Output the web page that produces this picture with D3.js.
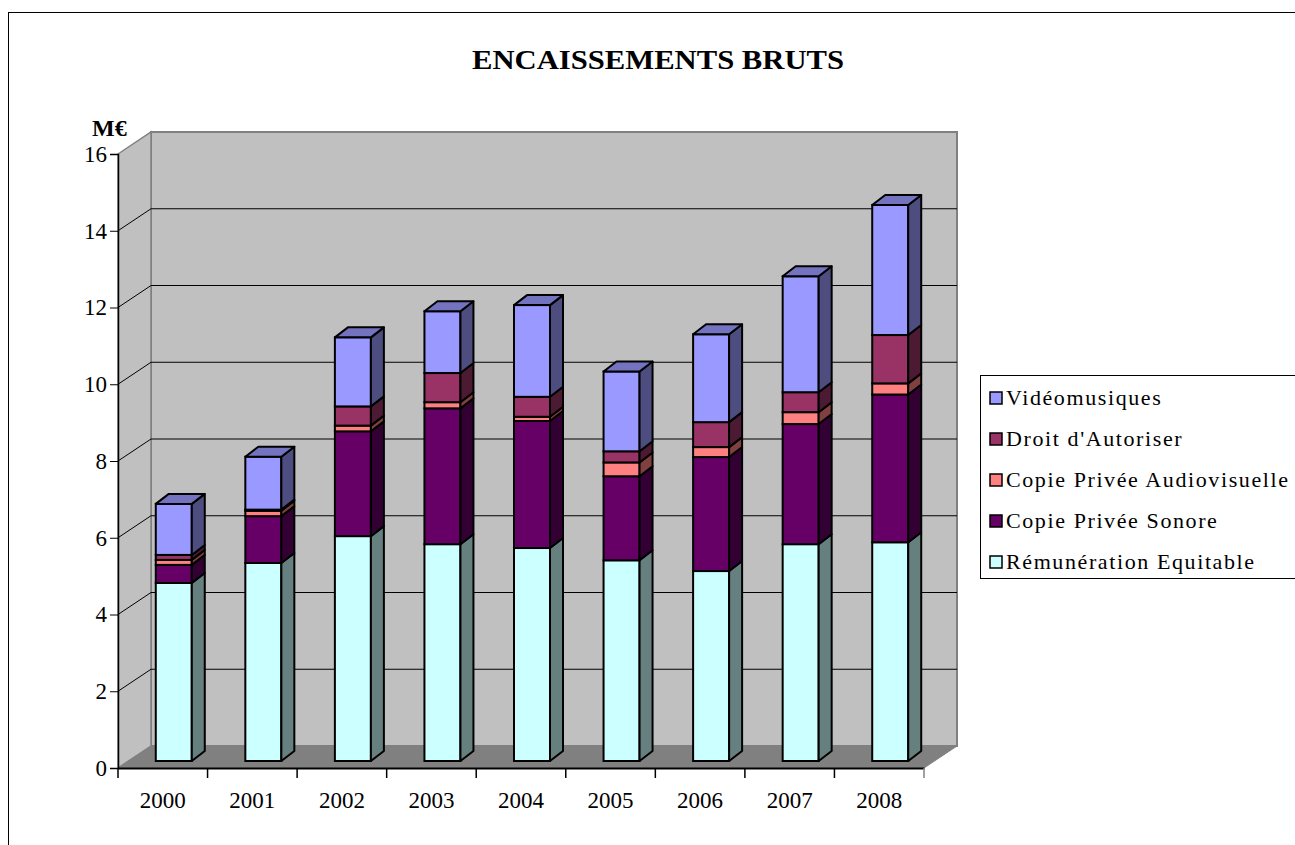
<!DOCTYPE html>
<html lang="fr">
<head>
<meta charset="utf-8">
<title>Encaissements bruts</title>
<script src="https://cdn.jsdelivr.net/npm/d3@7"></script>
<style>
  body { margin: 0; background: #fff; }
  svg text { font-family: "Liberation Serif", "DejaVu Serif", serif; fill: #000; }
</style>
</head>
<body>
<div id="chart"></div>
<script>
// values in M€
var years = ["2000", "2001", "2002", "2003", "2004", "2005", "2006", "2007", "2008"];
var remuneration = [4.64, 5.16, 5.86, 5.65, 5.55, 5.23, 4.95, 5.65, 5.70];
var copieSonore  = [0.47, 1.22, 2.73, 3.54, 3.31, 2.19, 2.97, 3.13, 3.85];
var copieAV      = [0.13, 0.14, 0.15, 0.16, 0.11, 0.36, 0.26, 0.31, 0.29];
var droit        = [0.13, 0.03, 0.50, 0.76, 0.52, 0.29, 0.65, 0.52, 1.26];
var video        = [1.33, 1.38, 1.80, 1.61, 2.39, 2.08, 2.29, 3.02, 3.39];
var yTicks = [0, 2, 4, 6, 8, 10, 12, 14, 16];

var keys = ["rem", "son", "av", "droit", "video"];
var labels = {
  rem: "Rémunération Equitable",
  son: "Copie Privée Sonore",
  av: "Copie Privée Audiovisuelle",
  droit: "Droit d'Autoriser",
  video: "Vidéomusiques"
};
var colors = {
  rem:   { front: "#CCFFFF", side: "#668080", top: "#99BFBF" },
  son:   { front: "#660066", side: "#330033", top: "#4d004d" },
  av:    { front: "#FF8080", side: "#804040", top: "#BF6060" },
  droit: { front: "#993366", side: "#4d1a33", top: "#73264d" },
  video: { front: "#9999FF", side: "#4d4d80", top: "#7373BF" }
};

var table = years.map(function(y, i) {
  return { year: y, rem: remuneration[i], son: copieSonore[i], av: copieAV[i], droit: droit[i], video: video[i] };
});
var series = d3.stack().keys(keys)(table);

var w = 1295, h = 845;
var pLeft = 118, pRight = 924, pBottom = 768, pTop = 154;
var depth = { dx: 33, dy: -22 };      // wall depth
var barOff = { dx: 11, dy: -7 };      // bar front plane inside the depth
var barDepth = { dx: 13, dy: -10 };
var barW = 36;

var x = d3.scaleBand().domain(years).range([pLeft, pRight]);
var y = d3.scaleLinear().domain([0, 16]).range([pBottom, pTop]);

var svg = d3.select("#chart").append("svg").attr("width", w).attr("height", h);

// outer frame
svg.append("rect").attr("x", 8.5).attr("y", 12.5).attr("width", 1300).attr("height", 900)
  .attr("fill", "none").attr("stroke", "#000").attr("stroke-width", 1);

// title
svg.append("text").attr("x", 658).attr("y", 69).attr("text-anchor", "middle")
  .attr("textLength", 372).attr("lengthAdjust", "spacingAndGlyphs")
  .style("font-size", "27px").style("font-weight", "bold").text("ENCAISSEMENTS BRUTS");

// back wall
svg.append("rect")
  .attr("x", pLeft + depth.dx).attr("y", pTop + depth.dy)
  .attr("width", pRight - pLeft).attr("height", pBottom - pTop)
  .attr("fill", "#C0C0C0").attr("stroke", "#808080").attr("stroke-width", 2);

// left wall
svg.append("polygon")
  .attr("points", [[pLeft, pTop], [pLeft + depth.dx, pTop + depth.dy], [pLeft + depth.dx, pBottom + depth.dy], [pLeft, pBottom]].join(" "))
  .attr("fill", "#C0C0C0").attr("stroke", "#808080").attr("stroke-width", 1.5);

// floor
svg.append("polygon")
  .attr("points", [[pLeft, pBottom], [pRight, pBottom], [pRight + depth.dx, pBottom + depth.dy], [pLeft + depth.dx, pBottom + depth.dy]].join(" "))
  .attr("fill", "#808080").attr("stroke", "#808080").attr("stroke-width", 1);

// gridlines (back wall + left wall diagonals)
var grid = svg.append("g");
yTicks.filter(function(t) { return t > 0 && t < 16; }).forEach(function(t) {
  grid.append("line")
    .attr("x1", pLeft + depth.dx).attr("x2", pRight + depth.dx)
    .attr("y1", y(t) + depth.dy).attr("y2", y(t) + depth.dy)
    .attr("stroke", "#000").attr("stroke-width", 1.2);
  grid.append("line")
    .attr("x1", pLeft).attr("x2", pLeft + depth.dx)
    .attr("y1", y(t)).attr("y2", y(t) + depth.dy)
    .attr("stroke", "#000").attr("stroke-width", 1);
});

// bars
var bars = svg.append("g");
series.forEach(function(s, si) {
  var c = colors[s.key];
  s.forEach(function(d) {
    var x0 = x(d.data.year) + x.bandwidth() / 2 - barW / 2 + barOff.dx;
    var x1 = x0 + barW;
    var yb = y(d[0]) + barOff.dy;
    var yt = y(d[1]) + barOff.dy;
    if (yb - yt <= 0) return;
    bars.append("rect")
      .attr("x", x0).attr("y", yt).attr("width", barW).attr("height", yb - yt)
      .attr("fill", c.front).attr("stroke", "#000").attr("stroke-width", 2);
    bars.append("polygon")
      .attr("points", [[x1, yb], [x1 + barDepth.dx, yb + barDepth.dy], [x1 + barDepth.dx, yt + barDepth.dy], [x1, yt]].join(" "))
      .attr("fill", c.side).attr("stroke", "#000").attr("stroke-width", 2).attr("stroke-linejoin", "round");
    if (si === series.length - 1) {
      bars.append("polygon")
        .attr("points", [[x0, yt], [x1, yt], [x1 + barDepth.dx, yt + barDepth.dy], [x0 + barDepth.dx, yt + barDepth.dy]].join(" "))
        .attr("fill", c.top).attr("stroke", "#000").attr("stroke-width", 2).attr("stroke-linejoin", "round");
    }
  });
});

// y axis
var yAxis = d3.axisLeft(y).tickValues(yTicks).tickSize(8).tickPadding(3).tickFormat(d3.format("d"));
var ya = svg.append("g").attr("transform", "translate(" + pLeft + ",0)").call(yAxis);
ya.select(".domain").attr("stroke", "#000").attr("stroke-width", 1.5);
ya.selectAll("text").style("font-size", "23px").style("font-family", "Liberation Serif");

svg.append("text").attr("x", 92).attr("y", 136)
  .style("font-size", "24px").style("font-weight", "bold").text("M€");

// x axis
var xAxis = d3.axisBottom(x).tickSize(0).tickPadding(24);
var xa = svg.append("g").attr("transform", "translate(0," + pBottom + ")").call(xAxis);
xa.select(".domain").attr("stroke", "#000").attr("stroke-width", 2);
xa.selectAll("text").style("font-size", "23px").style("font-family", "Liberation Serif");
var bounds = years.map(function(yr) { return x(yr); }).concat([pRight]);
svg.append("g").selectAll("line").data(bounds).enter().append("line")
  .attr("x1", function(d) { return d; }).attr("x2", function(d) { return d; })
  .attr("y1", pBottom).attr("y2", pBottom + 10)
  .attr("stroke", function(d, i) { return i === bounds.length - 1 ? "#808080" : "#000"; })
  .attr("stroke-width", 1.5);

// legend
var lg = svg.append("g").attr("transform", "translate(980,375)");
lg.append("rect").attr("x", 0.5).attr("y", 0.5).attr("width", 330).attr("height", 203)
  .attr("fill", "#fff").attr("stroke", "#000").attr("stroke-width", 1);
var legendKeys = keys.slice().reverse();
var rows = lg.selectAll(".row").data(legendKeys).enter().append("g")
  .attr("transform", function(d, i) { return "translate(10," + (23 + i * 41) + ")"; });
rows.append("rect").attr("x", 0).attr("y", -6).attr("width", 12).attr("height", 12)
  .attr("fill", function(d) { return colors[d].front; })
  .attr("stroke", "#000").attr("stroke-width", 1.5);
rows.append("text").attr("x", 16).attr("y", 7)
  .style("font-size", "22px").style("letter-spacing", "1.6px").text(function(d) { return labels[d]; });
</script>
</body>
</html>
